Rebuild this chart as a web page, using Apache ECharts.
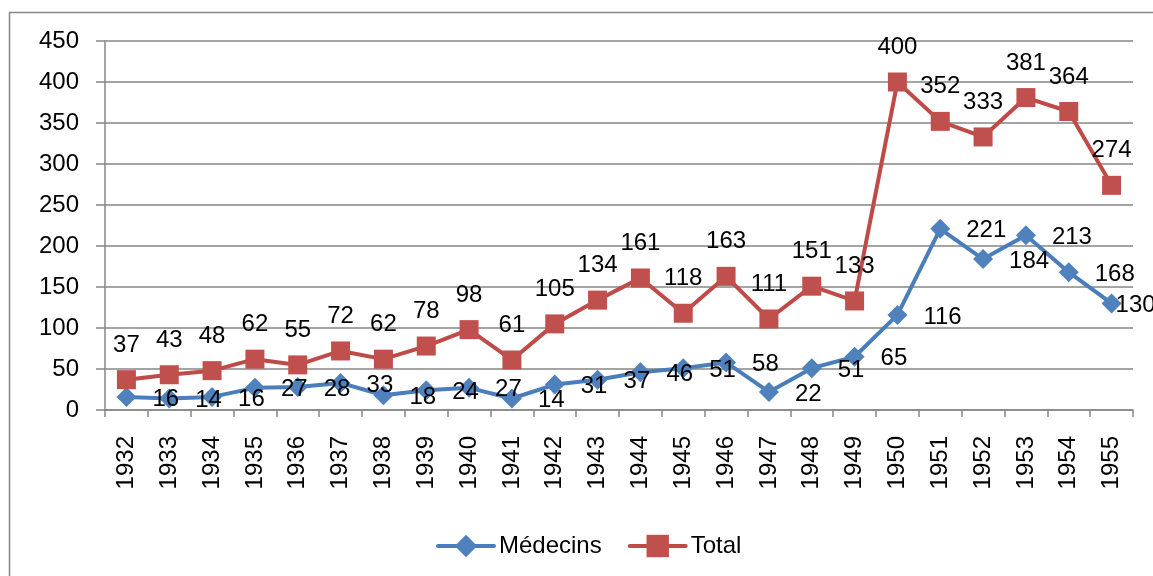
<!DOCTYPE html>
<html lang="fr">
<head>
	<meta charset="UTF-8">
	<title>Médecins / Total</title>
	<script src="https://cdn.jsdelivr.net/npm/echarts@6/dist/echarts.min.js"></script>
	<style>
		html, body { margin: 0; padding: 0; background: #fff; }
	</style>
</head>
<body>
	<div id="main" style="width: 1153px;height:576px;"></div>
	<script type="text/javascript">
		var years = ['1932', '1933', '1934', '1935', '1936', '1937', '1938', '1939', '1940', '1941', '1942', '1943',
			'1944', '1945', '1946', '1947', '1948', '1949', '1950', '1951', '1952', '1953', '1954', '1955'];
		var medecins = [16, 14, 16, 27, 28, 33, 18, 24, 27, 14, 31, 37, 46, 51, 58, 22, 51, 65, 116, 221, 184, 213, 168, 130];
		var total = [37, 43, 48, 62, 55, 72, 62, 78, 98, 61, 105, 134, 161, 118, 163, 111, 151, 133, 400, 352, 333, 381, 364, 274];

		var font = '"Liberation Sans", Arial, sans-serif';
		var grey = '#868686';
		var fs = 24;

		// le dernier label est ramené dans la zone du graphique
		var medecinsData = medecins.map(function (v, i) {
			if (i === medecins.length - 1) {
				return { value: v, label: { distance: 4, offset: [-10, 2] } };
			}
			return v;
		});

		var myChart = echarts.init(document.getElementById('main'));

		var option = {
			backgroundColor: '#fff',
			animation: false,
			textStyle: { fontFamily: font },
			graphic: [{
				type: 'rect',
				shape: { x: 9.5, y: 12.5, width: 1300, height: 700 },
				style: { fill: 'none', stroke: grey, lineWidth: 1.5 },
				silent: true
			}],
			legend: {
				bottom: 13,
				left: 431,
				itemWidth: 56,
				itemHeight: 28,
				itemGap: 26,
				lineStyle: { width: 4, cap: 'round' },
				textStyle: { fontSize: fs, color: '#000', fontFamily: font },
				data: ['Médecins', 'Total']
			},
			grid: { left: 105, right: 20, top: 41, bottom: 166 },
			xAxis: {
				type: 'category',
				data: years,
				boundaryGap: true,
				axisLine: { lineStyle: { color: grey, width: 1.5 } },
				axisTick: { show: true, length: 7, interval: 0, lineStyle: { color: grey, width: 1.5 } },
				axisLabel: { rotate: 90, interval: 0, margin: 26, fontSize: fs, color: '#000', fontFamily: font }
			},
			yAxis: {
				type: 'value',
				min: 0,
				max: 450,
				interval: 50,
				axisLine: { show: true, lineStyle: { color: grey, width: 1.5 } },
				axisTick: { show: true, length: 9, lineStyle: { color: grey, width: 1.5 } },
				splitLine: { lineStyle: { color: grey, width: 1.5 } },
				axisLabel: { margin: 26, fontSize: fs, color: '#000', fontFamily: font }
			},
			series: [
				{
					name: 'Médecins',
					type: 'line',
					data: medecinsData,
					symbol: 'diamond',
					symbolSize: 20,
					lineStyle: { color: '#4a7ebb', width: 4 },
					itemStyle: { color: '#4f81bd' },
					label: {
						show: true,
						position: 'right',
						distance: 16,
						offset: [0, 2],
						fontSize: fs,
						color: '#000',
						fontFamily: font
					},
					z: 2
				},
				{
					name: 'Total',
					type: 'line',
					data: total,
					symbol: 'rect',
					symbolSize: 19,
					lineStyle: { color: '#be4b48', width: 4 },
					itemStyle: { color: '#c0504d' },
					label: {
						show: true,
						position: 'top',
						distance: 13,
						fontSize: fs,
						color: '#000',
						fontFamily: font
					},
					z: 3
				}
			]
		};

		myChart.setOption(option);
	</script>
</body>
</html>
